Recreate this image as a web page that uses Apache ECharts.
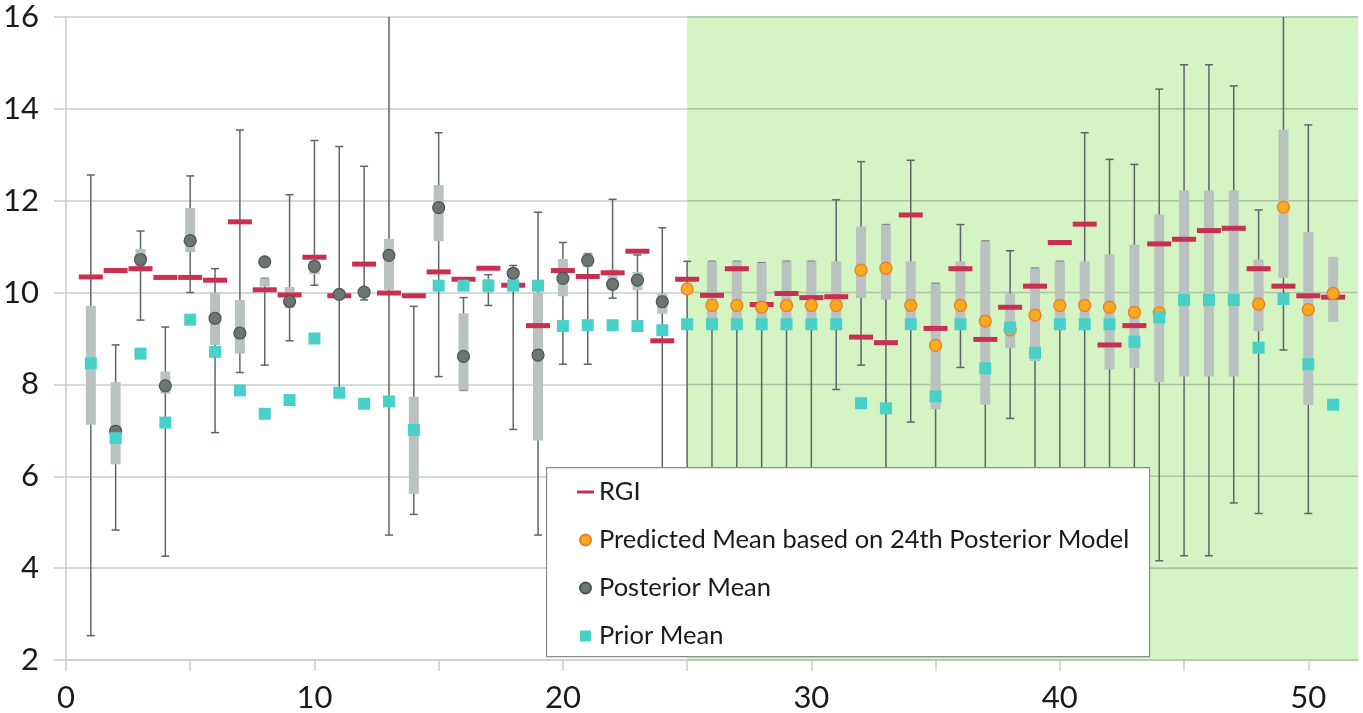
<!DOCTYPE html>
<html>
<head>
<meta charset="utf-8">
<script src="https://cdn.jsdelivr.net/npm/echarts@6/dist/echarts.min.js"></script>
<style>
html,body{margin:0;padding:0;background:#ffffff;}
#chart{width:1363px;height:713px;}
</style>
</head>
<body>
<div id="chart"></div>
<script>
// ---------- data ----------
const sites = [1,2,3,4,5,6,7,8,9,10,11,12,13,14,15,16,17,18,19,20,21,22,23,24,25,26,27,28,29,30,31,32,33,34,35,36,37,38,39,40,41,42,43,44,45,46,47,48,49,50,51];

const rgi = [10.34,10.48,10.52,10.33,10.33,10.27,11.54,10.06,9.95,10.77,
             9.93,10.62,9.99,9.93,10.45,10.29,10.53,10.16,9.28,10.48,
             10.35,10.43,10.90,8.95,10.29,9.94,10.52,9.74,9.98,9.89,
             9.91,9.03,8.91,11.69,9.22,10.52,8.98,9.68,10.14,11.09,
             11.49,8.86,9.28,11.06,11.16,11.35,11.40,10.52,10.14,9.93,9.90];

const priorMean = [8.46,6.83,8.67,7.17,9.41,8.71,7.87,7.36,7.66,9.00,
                   7.82,7.58,7.63,7.01,10.15,10.15,10.15,10.15,10.15,9.27,
                   9.29,9.29,9.27,9.18,9.31,9.31,9.31,9.31,9.31,9.31,
                   9.31,7.59,7.48,9.31,7.74,9.31,8.35,9.24,8.69,9.31,
                   9.31,9.31,8.93,9.46,9.84,9.84,9.84,8.80,9.86,8.44,7.56];

// sites 1..24 (null: hidden behind the prior-mean square)
const posteriorMean = [null,6.98,10.72,7.97,11.13,9.44,9.12,10.67,9.81,10.57,
                       9.96,10.01,10.81,null,11.85,8.61,null,10.42,8.64,10.31,
                       10.70,10.18,10.27,9.80];

// sites 25..51 (null: hidden behind the prior-mean square)
const predictedMean = [10.08,9.72,9.72,9.68,9.72,9.72,9.72,10.49,10.53,9.72,
                       8.85,9.72,9.38,9.19,9.51,9.72,9.72,9.68,9.57,9.56,
                       null,null,null,9.75,11.86,9.63,9.98];

const boxLow  = [7.12,6.26,10.50,7.80,10.88,8.86,8.67,10.13,9.66,10.40,
                 9.85,9.90,10.06,5.62,11.12,7.87,10.00,10.20,6.78,9.92,
                 10.55,10.06,10.05,9.54,null,9.30,9.30,9.30,9.30,9.30,
                 9.30,9.88,9.85,9.30,7.46,9.30,7.56,8.79,8.51,9.30,
                 9.30,8.33,8.35,8.05,8.17,8.17,8.17,9.16,10.32,7.55,9.36];
const boxHigh = [9.71,8.05,10.95,8.28,11.84,10.00,9.84,10.31,10.12,10.70,
                 10.05,10.10,11.17,7.73,12.34,9.55,10.30,10.50,10.00,10.73,
                 10.85,10.50,10.45,9.98,null,10.68,10.68,10.65,10.68,10.68,
                 10.68,11.44,11.48,10.68,10.20,10.68,11.12,9.98,10.53,10.68,
                 10.68,10.83,11.04,11.70,12.22,12.22,12.22,10.72,13.55,11.32,10.78];

const whiskerLow  = [2.53,4.83,9.40,4.26,10.00,6.95,8.26,8.42,8.95,10.16,
                     7.82,9.84,4.72,5.17,8.17,7.87,9.72,7.02,4.72,8.44,
                     8.44,9.88,9.28,4.50,4.50,4.50,4.50,4.50,4.50,4.50,
                     7.89,8.42,4.50,7.18,2.12,8.37,4.50,7.26,4.50,4.50,
                     4.50,4.50,4.50,4.16,4.27,4.27,5.42,5.19,8.75,5.19,null];
const whiskerHigh = [12.56,8.86,11.34,9.25,12.54,10.52,13.54,10.31,12.13,13.31,
                     13.18,12.75,16.50,9.70,13.48,9.89,10.39,10.59,11.75,11.09,
                     10.85,12.03,10.82,11.41,10.68,10.68,10.68,10.65,10.68,10.68,
                     12.02,12.85,11.48,12.88,10.20,11.48,11.12,10.91,10.53,10.68,
                     13.48,12.90,12.79,14.43,14.96,14.96,14.50,11.80,16.50,13.65,null];

const xTickValues  = [0,5,10,15,20,25,30,35,40,45,50];
const xLabelValues = [0,10,20,30,40,50];
const yTickLabels  = [2,4,6,8,10,12,14,16];
const forecastRange = [25, 52];

const legendNames = ['RGI','Predicted Mean based on 24th Posterior Model','Posterior Mean','Prior Mean'];

// ---------- build series data ----------
const rangeData = sites.map((s, i) => [s, boxLow[i], boxHigh[i], whiskerLow[i], whiskerHigh[i]]);
const rgiData = sites.map((s, i) => [s, rgi[i]]);
const priorData = sites.map((s, i) => [s, priorMean[i]]);
const posteriorData = posteriorMean.map((v, k) => [sites[k], v]).filter(d => d[1] !== null);
const predictedData = predictedMean.map((v, k) => [sites[posteriorMean.length + k], v]).filter(d => d[1] !== null);
const bandGridData = yTickLabels.map(v => [forecastRange[0], forecastRange[1], v]);

const GRID_COLOR = '#c6cfcf';
const BAND_GRID_COLOR = '#aec4a5';
const FONT = 'Lato';

function ok(v){ return v !== null && v !== undefined && !isNaN(v); }

function renderRange(params, api) {
  const cs = params.coordSys;
  const top = cs.y, bottom = cs.y + cs.height;
  const x = api.value(0);
  const bl = api.value(1), bh = api.value(2), wl = api.value(3), wh = api.value(4);
  const children = [];
  const stroke = {stroke: '#5c6666', lineWidth: 1.5};
  if (ok(wl) && ok(wh)) {
    const pl = api.coord([x, wl]);
    const ph = api.coord([x, wh]);
    const yl = Math.min(bottom, Math.max(top, pl[1]));
    const yh = Math.min(bottom, Math.max(top, ph[1]));
    children.push({type: 'line', shape: {x1: pl[0], y1: yh, x2: pl[0], y2: yl}, style: stroke});
    if (ph[1] >= top) children.push({type: 'line', shape: {x1: pl[0] - 4, y1: yh, x2: pl[0] + 4, y2: yh}, style: stroke});
    if (pl[1] <= bottom) children.push({type: 'line', shape: {x1: pl[0] - 4, y1: yl, x2: pl[0] + 4, y2: yl}, style: stroke});
  }
  if (ok(bl) && ok(bh)) {
    const a = api.coord([x, bh]);
    const b = api.coord([x, bl]);
    children.push({type: 'rect', shape: {x: a[0] - 5, y: a[1], width: 10, height: b[1] - a[1]}, style: {fill: '#b9c2c1'}});
  }
  return {type: 'group', children: children};
}

// green band for the forecast range
function renderBand(params, api) {
  const cs = params.coordSys;
  const p0 = api.coord([api.value(0), yTickLabels[yTickLabels.length - 1]]);
  const p1 = api.coord([api.value(1), yTickLabels[0]]);
  const x0 = Math.max(cs.x, p0[0]);
  const x1 = Math.min(cs.x + cs.width, p1[0]);
  return {type: 'rect', shape: {x: x0, y: cs.y, width: x1 - x0, height: cs.height},
          style: {fill: '#d5f4c3'}};
}

// horizontal grid lines inside the green band (one item per y tick)
function renderBandGrid(params, api) {
  const cs = params.coordSys;
  const a = api.coord([api.value(0), api.value(2)]);
  const b = api.coord([api.value(1), api.value(2)]);
  const x0 = Math.max(cs.x, a[0]);
  const x1 = Math.min(cs.x + cs.width, b[0]);
  return {type: 'line', shape: {x1: x0, y1: a[1], x2: x1, y2: a[1]},
          style: {stroke: BAND_GRID_COLOR, lineWidth: 1.6}};
}

const chart = echarts.init(document.getElementById('chart'), null, {renderer: 'canvas'});

const option = {
  animation: false,
  backgroundColor: '#ffffff',
  grid: {left: 60, right: 5, top: 17, bottom: 51, containLabel: false},
  xAxis: {
    type: 'value', min: 0, max: 52, interval: 5,
    axisLine: {show: true, onZero: false, lineStyle: {color: GRID_COLOR, width: 1.5}},
    axisTick: {show: true, length: 11, customValues: xTickValues, lineStyle: {color: GRID_COLOR, width: 1.5}},
    axisLabel: {show: true, customValues: xLabelValues, margin: 22, fontFamily: FONT, fontSize: 31, color: '#1a1a1a'},
    splitLine: {show: false}
  },
  yAxis: {
    type: 'value', min: 2, max: 16, interval: 2,
    axisLine: {show: true, lineStyle: {color: GRID_COLOR, width: 1.5}},
    axisTick: {show: true, length: 12, lineStyle: {color: GRID_COLOR, width: 1.5}},
    axisLabel: {show: true, margin: 27, fontFamily: FONT, fontSize: 31, color: '#1a1a1a',
                formatter: v => (yTickLabels.indexOf(v) >= 0 ? String(v) : '')},
    splitLine: {show: true, lineStyle: {color: GRID_COLOR, width: 1.5}}
  },
  legend: {
    orient: 'vertical', left: 577, top: 479, padding: 0, itemGap: 22,
    itemWidth: 17, itemHeight: 11, selectedMode: false, z: 11,
    textStyle: {fontFamily: FONT, fontSize: 25.5, color: '#1a1a1a'},
    data: [
      {name: legendNames[0], icon: 'path://M0,0M0,4H17V7H0ZM17,11'},
      {name: legendNames[1], icon: 'circle'},
      {name: legendNames[2], icon: 'circle'},
      {name: legendNames[3], icon: 'path://M0,0M3,0H14V11H3ZM17,11'}
    ]
  },
  graphic: {
    elements: [{
      type: 'rect', left: 546, top: 467, z: 10, silent: true,
      shape: {width: 603, height: 189},
      style: {fill: '#ffffff', stroke: '#8c8c8c', lineWidth: 1.2}
    }]
  },
  series: [
    {
      name: 'forecast', type: 'custom', z: 1, silent: true,
      renderItem: renderBand,
      encode: {x: [0, 1]},
      data: [forecastRange]
    },
    {
      name: 'forecastGrid', type: 'custom', z: 1.5, silent: true,
      renderItem: renderBandGrid,
      encode: {x: [0, 1], y: 2},
      data: bandGridData
    },
    {
      name: 'range', type: 'custom', z: 2, silent: true,
      renderItem: renderRange,
      encode: {x: 0, y: [1, 2, 3, 4]},
      data: rangeData
    },
    {
      name: legendNames[0], type: 'scatter', z: 3,
      symbol: 'rect', symbolSize: [24, 5],
      itemStyle: {color: '#c9304f', opacity: 1},
      data: rgiData
    },
    {
      name: legendNames[2], type: 'scatter', z: 4,
      symbol: 'circle', symbolSize: 12,
      itemStyle: {color: '#6d7474', borderColor: '#4e5555', borderWidth: 1.2, opacity: 1},
      data: posteriorData
    },
    {
      name: legendNames[1], type: 'scatter', z: 4,
      symbol: 'circle', symbolSize: 12,
      itemStyle: {color: '#f9aa1d', borderColor: '#ef7d2d', borderWidth: 1.3, opacity: 1},
      data: predictedData
    },
    {
      name: legendNames[3], type: 'scatter', z: 5,
      symbol: 'rect', symbolSize: [12, 12],
      itemStyle: {color: '#47d1c9', opacity: 1},
      data: priorData
    }
  ]
};

chart.setOption(option);
</script>
</body>
</html>
